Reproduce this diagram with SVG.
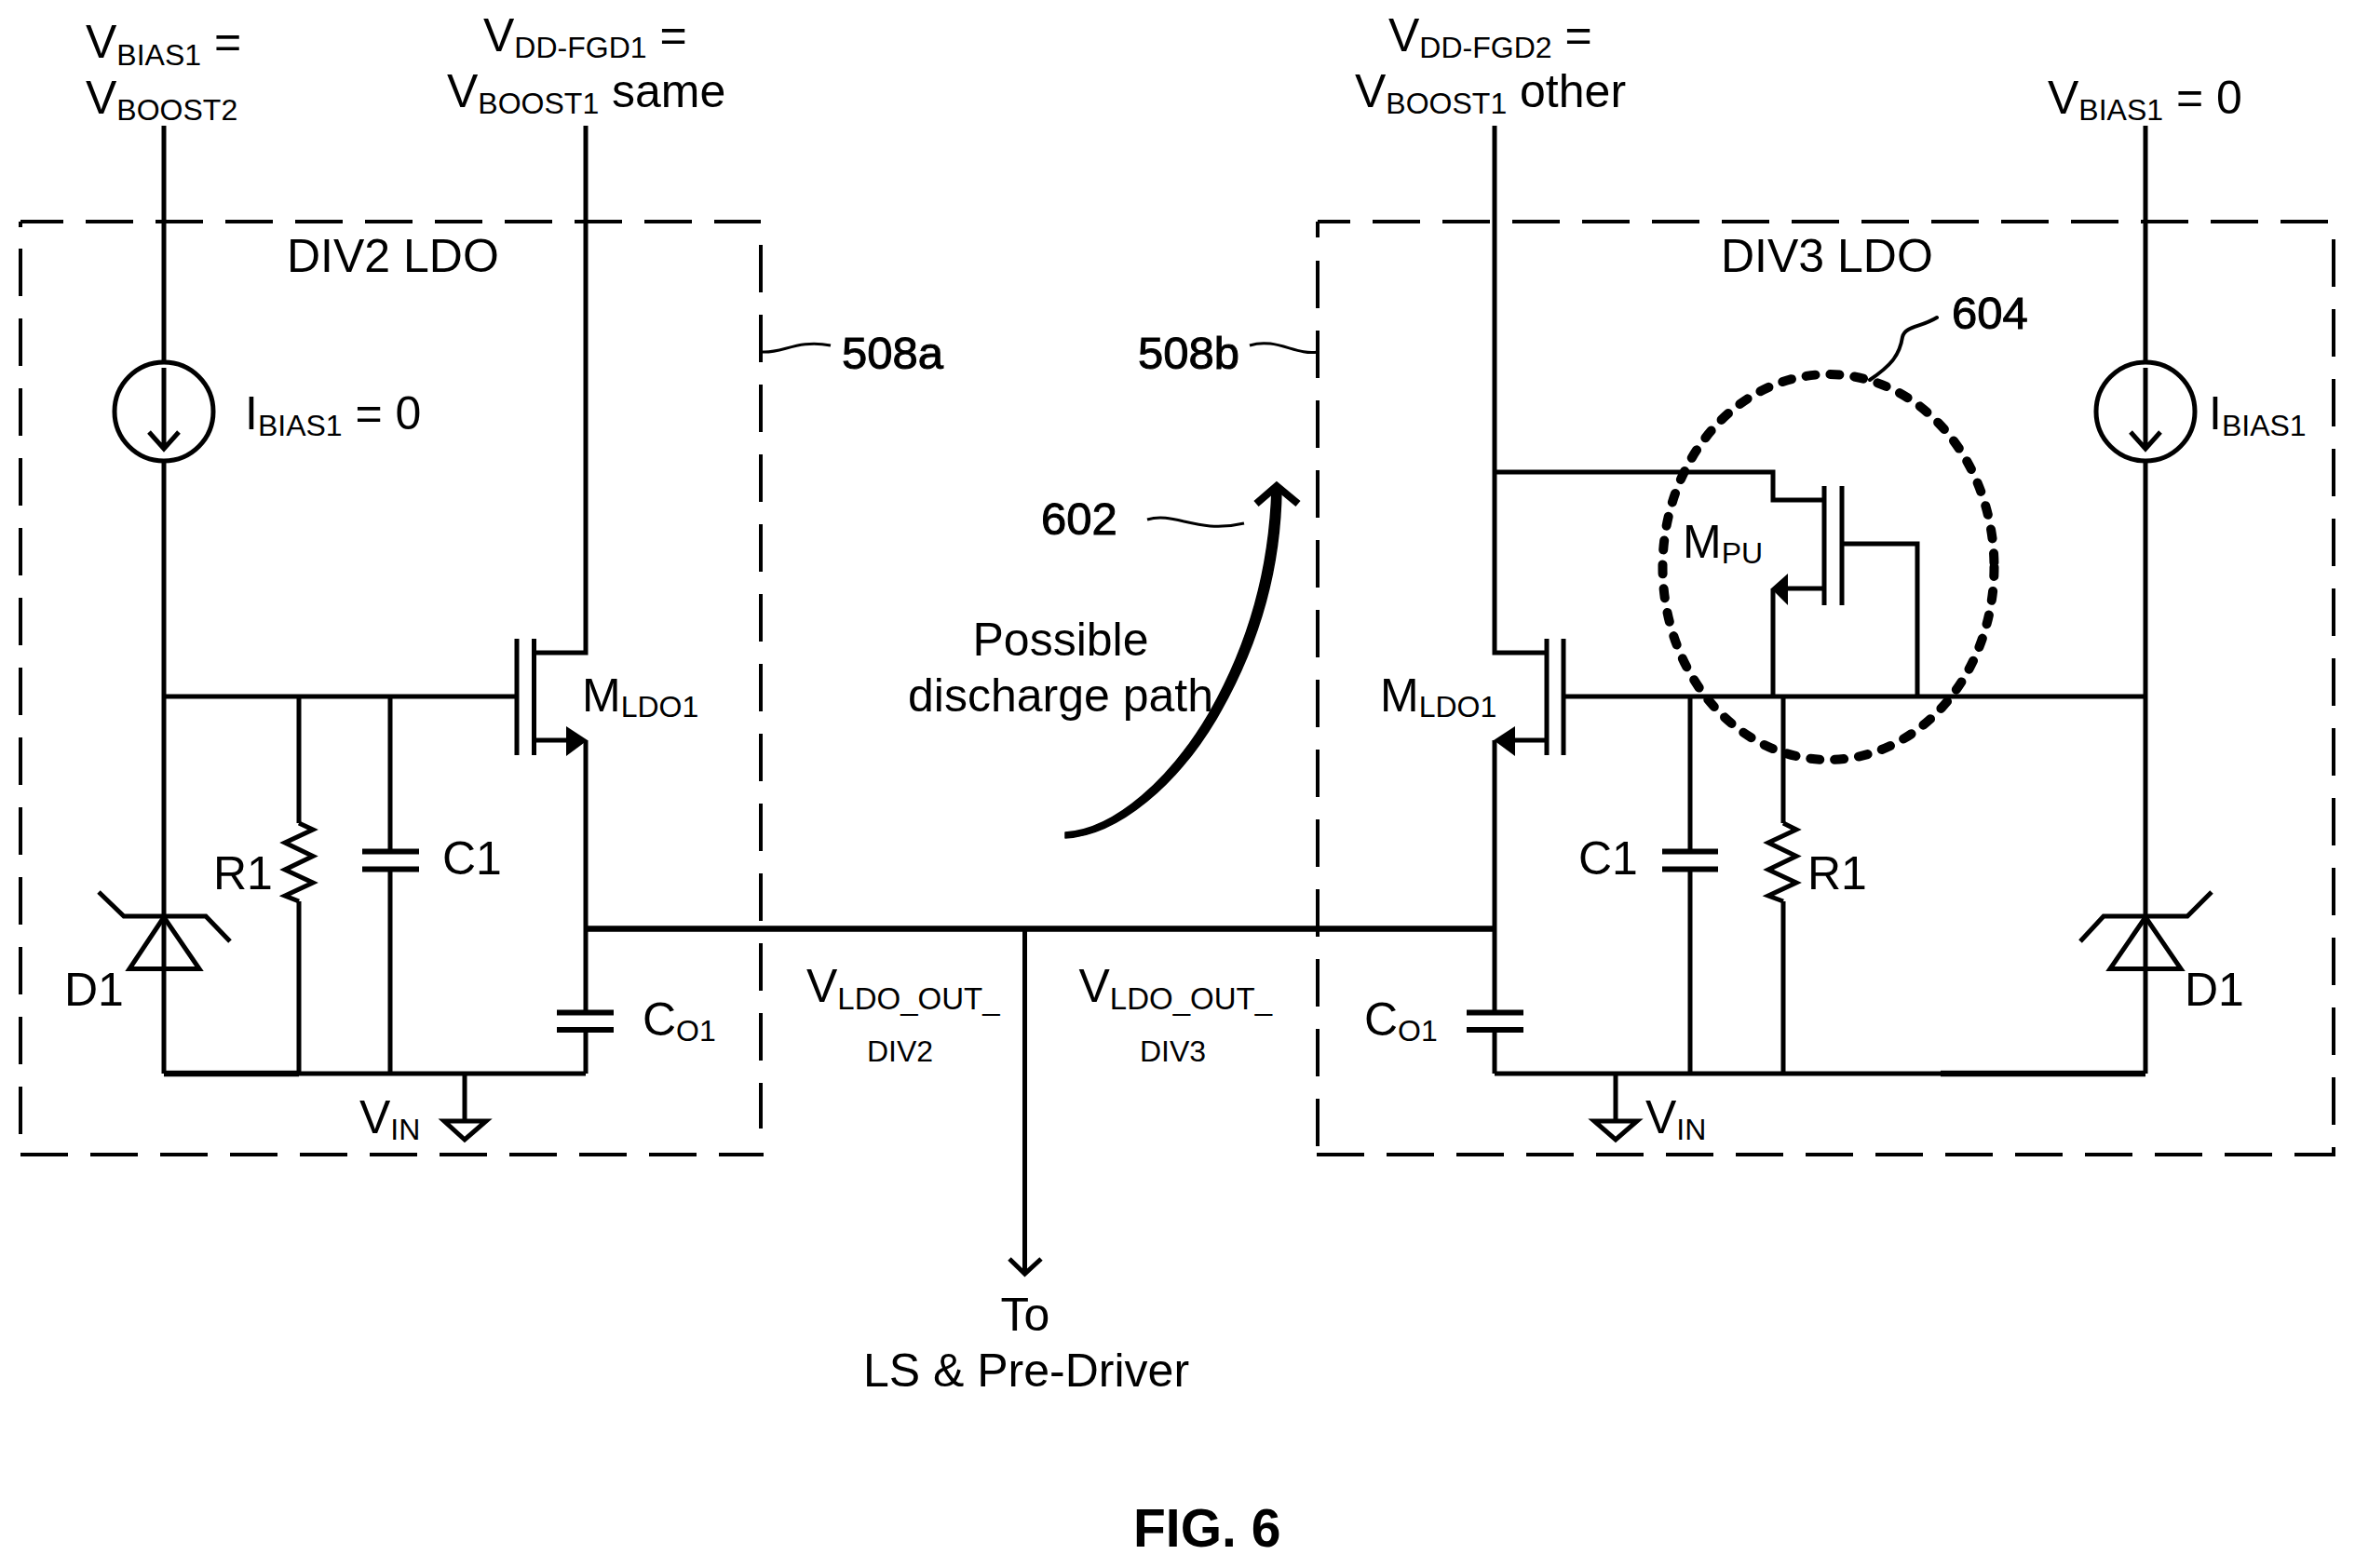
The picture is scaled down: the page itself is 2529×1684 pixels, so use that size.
<svg xmlns="http://www.w3.org/2000/svg" width="2529" height="1684" viewBox="0 0 2529 1684">
<defs>
<style>
text{font-family:"Liberation Sans",Arial,sans-serif;font-size:50px;fill:#000}
.sub{font-size:32px}
.sub2{font-size:33px}
.ref{stroke:#000;stroke-width:1px;font-size:49px}
.fig{font-size:57px;font-weight:bold}
.mid{text-anchor:middle}
.w{fill:none;stroke:#000;stroke-width:5px}
.w6{fill:none;stroke:#000;stroke-width:6.5px}
.t{fill:none;stroke:#000;stroke-width:3px}
.dash{fill:none;stroke:#000;stroke-width:4px;stroke-dasharray:51 24}
.sym{fill:none;stroke:#000;stroke-width:5px}
.plate{fill:none;stroke:#000;stroke-width:6px}
.ah{fill:#000;stroke:none}
</style>
</defs>
<rect width="2529" height="1684" fill="#fff"/>
<g id="connectors">
<path class="w" d="M176 135V389M176 495V1153M629 135V701H575M629 795V1087M629 1106V1153"/>
<path class="w" d="M176 748H553M321 748V884M321 968V1153M419 748V914M419 933V1153M176 1153H629M499 1153V1204"/>
<path class="w6" d="M629 997.5H1605M176 1153H321M2084 1153H2304"/>
<path class="w" d="M1605 135V701H1660M1605 795V1087M1605 1106V1153M2304 135V389M2304 495V1153"/>
<path class="w" d="M1681 748H2304M1815 748V914M1815 933V1153M1915 748V884M1915 968V1153M1605 1153H2304M1735 1153V1204"/>
<path class="w" d="M1605 507H1904V537H1957M1980 584H2059V748M1904 632V748"/>
<path class="w" d="M1100.5 997V1366"/>
<path class="w" d="M1084 1352L1100.5 1368L1118 1352" stroke-linejoin="miter"/>
</g>
<g id="box-div2">
<path class="dash" d="M22 238H817" stroke-dashoffset="5"/>
<path class="dash" d="M817 263V1212"/>
<path class="dash" d="M22 1240H820" stroke-dashoffset="0"/>
<path class="dash" d="M22 267V1218"/>
<path class="t" style="stroke-width:4px" d="M22 238V244"/>
<text x="308" y="291.5">DIV2 LDO</text>
</g>
<g id="box-div3">
<path class="dash" d="M1415 238H2502" stroke-dashoffset="16"/>
<path class="dash" d="M2506 257V1240"/>
<path class="dash" d="M1414 1240H2508"/>
<path class="dash" d="M1415 280V1232"/>
<path class="t" style="stroke-width:4px" d="M1415 238V255"/>
<text x="1848" y="291.5">DIV3 LDO</text>
</g>
<g id="label-vbias-left"><text x="92" y="62">V<tspan class="sub" dy="8">BIAS1</tspan><tspan dy="-8"> =</tspan></text><text x="92" y="122">V<tspan class="sub" dy="7">BOOST2</tspan></text></g>
<g id="label-vdd-fgd1"><text x="519" y="55">V<tspan class="sub" dy="7">DD-FGD1</tspan><tspan dy="-7"> =</tspan></text><text x="480" y="115">V<tspan class="sub" dy="7">BOOST1</tspan><tspan dy="-7"> same</tspan></text></g>
<g id="label-vdd-fgd2"><text x="1491" y="55">V<tspan class="sub" dy="7">DD-FGD2</tspan><tspan dy="-7"> =</tspan></text><text x="1455" y="115">V<tspan class="sub" dy="7">BOOST1</tspan><tspan dy="-7"> other</tspan></text></g>
<g id="label-vbias-right"><text x="2199" y="122">V<tspan class="sub" dy="7">BIAS1</tspan><tspan dy="-7"> = 0</tspan></text></g>
<g id="ibias-left">
<circle class="sym" cx="176" cy="442" r="53"/>
<path class="sym" d="M176 395V482M160 464L176 482L192 464"/>
<text x="263" y="461">I<tspan class="sub" dy="7">BIAS1</tspan><tspan dy="-7"> = 0</tspan></text>
</g>
<g id="ibias-right">
<circle class="sym" cx="2304" cy="442" r="53"/>
<path class="sym" d="M2304 395V482M2288 464L2304 482L2320 464"/>
<text x="2372" y="461">I<tspan class="sub" dy="7">BIAS1</tspan></text>
</g>
<g id="mldo1-left">
<path class="sym" d="M555 686V811M573.5 686V811M575 795H610"/>
<path class="ah" d="M608 780L631 795L608 812Z"/>
<text x="625" y="764">M<tspan class="sub" dy="6">LDO1</tspan></text>
</g>
<g id="mldo1-right">
<path class="sym" d="M1679 686V811M1661 686V811M1660 795H1625"/>
<path class="ah" d="M1627 780L1604 795L1627 812Z"/>
<text x="1482" y="764">M<tspan class="sub" dy="6">LDO1</tspan></text>
</g>
<g id="mpu">
<path class="sym" d="M1959 522V650M1978 522V650M1959 632H1918"/>
<path class="ah" d="M1920 616L1902 632L1920 650Z"/>
<text x="1807" y="599">M<tspan class="sub" dy="6">PU</tspan></text>
</g>
<g id="r1-left">
<path class="sym" d="M321 884L336 891L306 905L336 919.5L306 934L336 948L306 962L321 968"/>
<text x="229" y="955">R1</text>
</g>
<g id="c1-left">
<path class="plate" d="M389 914.5H450M389 933.5H450"/>
<text x="475" y="939">C1</text>
</g>
<g id="co1-left">
<path class="plate" d="M598 1087.5H659M598 1106H659"/>
<text x="690" y="1112">C<tspan class="sub" dy="6">O1</tspan></text>
</g>
<g id="d1-left">
<path class="sym" d="M106 958L133 984H221L247 1011"/>
<path class="sym" d="M176 985L139 1040.5H214Z"/>
<text x="69" y="1080">D1</text>
</g>
<g id="gnd-left">
<path class="sym" d="M477 1204H522L499 1224Z"/>
<text x="386" y="1217">V<tspan class="sub" dy="7">IN</tspan></text>
</g>
<g id="r1-right">
<path class="sym" d="M1915 884L1929 891L1899 905L1929 919.5L1899 934L1929 948L1899 962L1915 968"/>
<text x="1941" y="955">R1</text>
</g>
<g id="c1-right">
<path class="plate" d="M1785 914.5H1845M1785 933.5H1845"/>
<text x="1695" y="939">C1</text>
</g>
<g id="co1-right">
<path class="plate" d="M1575 1087.5H1636M1575 1106H1636"/>
<text x="1465" y="1112">C<tspan class="sub" dy="6">O1</tspan></text>
</g>
<g id="d1-right">
<path class="sym" d="M2234 1011L2259 984H2349L2375 958"/>
<path class="sym" d="M2304 985L2266 1040.5H2342Z"/>
<text x="2346" y="1080">D1</text>
</g>
<g id="gnd-right">
<path class="sym" d="M1712 1204H1758L1735 1224Z"/>
<text x="1767" y="1217">V<tspan class="sub" dy="7">IN</tspan></text>
</g>
<g id="region-604">
<ellipse cx="1963.5" cy="609" rx="178" ry="207" fill="none" stroke="#000" stroke-width="10" stroke-dasharray="10 16" stroke-linecap="round"/>
<path class="t" stroke-linecap="round" style="stroke-width:4px" d="M2008 408C2030 393 2040 382 2043 362C2046 350 2062 352 2080 341"/>
<text class="ref" x="2096" y="353">604</text>
</g>
<g id="ref-508a"><path class="t" d="M818 378C840 380 856 364 892 371"/><text class="ref" x="904" y="396">508a</text></g>
<g id="ref-508b"><path class="t" d="M1342 371C1370 362 1392 382 1415 378"/><text class="ref" x="1222" y="396">508b</text></g>
<g id="discharge-path">
<path class="t" d="M1232 558C1262 549 1285 574 1336 562"/>
<text class="ref" x="1118" y="574">602</text>
<path fill="#000" stroke="#000" stroke-width="1.5" stroke-linejoin="round" d="M1144 900C1202 897 1265 841 1306 772C1340 714 1375 630 1376 525L1366 525C1363 628 1332 708 1298 767C1258 835 1198 891 1144 894Z"/>
<path fill="none" stroke="#000" stroke-width="8" d="M1349 541L1371 522L1394 541"/>
<text class="mid" x="1139" y="704">Possible</text>
<text class="mid" x="1139" y="764">discharge path</text>
</g>
<g id="label-out-div2"><text x="866" y="1076">V<tspan class="sub2" dy="8">LDO_OUT_</tspan></text><text class="sub" x="931" y="1140">DIV2</text></g>
<g id="label-out-div3"><text x="1158.5" y="1076">V<tspan class="sub2" dy="8">LDO_OUT_</tspan></text><text class="sub" x="1224" y="1140">DIV3</text></g>
<g id="label-to"><text class="mid" x="1101" y="1429">To</text><text class="mid" x="1102" y="1489">LS &amp; Pre-Driver</text></g>
<g id="caption"><text class="fig" x="1217" y="1661">FIG. 6</text></g>
</svg>
